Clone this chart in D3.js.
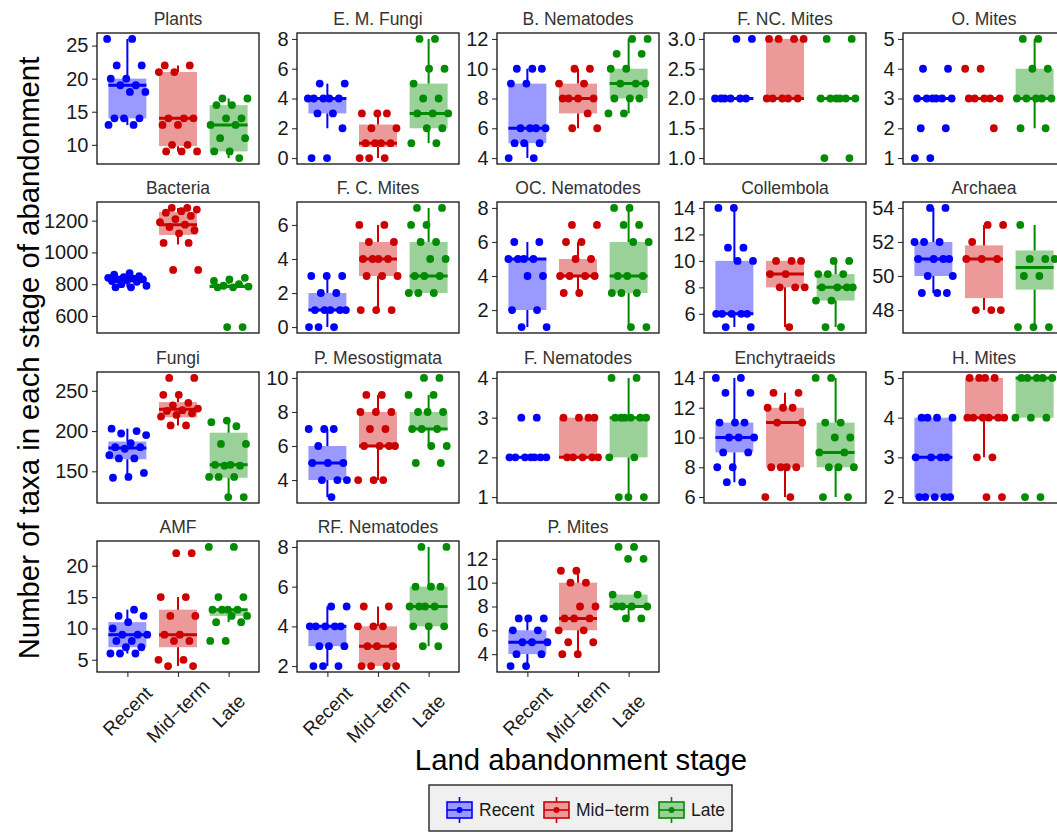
<!DOCTYPE html>
<html>
<head>
<meta charset="utf-8">
<script src="https://cdn.jsdelivr.net/npm/d3@7"></script>
<style>
  html, body { margin: 0; padding: 0; background: #fff; }
  svg { display: block; font-family: "Liberation Sans", Arial, sans-serif; }
</style>
</head>
<body>
<svg id="chart" width="1057" height="832"></svg>
<script>
// ---------------- DATA ----------------
const stages = ["Recent", "Mid\u2212term", "Late"];

const taxa = ["Plants", "E. M. Fungi", "B. Nematodes", "F. NC. Mites", "O. Mites",
  "Bacteria", "F. C. Mites", "OC. Nematodes", "Collembola", "Archaea",
  "Fungi", "P. Mesostigmata", "F. Nematodes", "Enchytraeids", "H. Mites",
  "AMF", "RF. Nematodes", "P. Mites"];

const yTicks = [
  [10, 15, 20, 25], [0, 2, 4, 6, 8], [4, 6, 8, 10, 12], [1, 1.5, 2, 2.5, 3], [1, 2, 3, 4, 5],
  [600, 800, 1000, 1200], [0, 2, 4, 6], [2, 4, 6, 8], [6, 8, 10, 12, 14], [48, 50, 52, 54],
  [150, 200, 250], [4, 6, 8, 10], [1, 2, 3, 4], [6, 8, 10, 12, 14], [2, 3, 4, 5],
  [5, 10, 15, 20], [2, 4, 6, 8], [4, 6, 8, 10, 12]
];

// box statistics per taxon and stage: [lower whisker, q1, median, q3, upper whisker]
const boxStats = [
  [[13, 14, 19, 20, 26], [9, 9.8, 14, 21, 22], [8, 9, 13, 16, 17]],
  [[2, 3, 4, 4, 5], [0, 0.75, 1, 2.25, 3], [1, 2, 3, 5, 8]],
  [[4, 5, 6, 9, 10], [6, 7, 8, 9, 10], [7, 8, 9, 10, 12]],
  [[2, 2, 2, 2, 2], [2, 2, 2, 3, 3], [2, 2, 2, 2, 2]],
  [[3, 3, 3, 3, 3], [3, 3, 3, 3, 3], [2, 3, 3, 4, 5]],
  [[780, 815, 830, 845, 870], [1050, 1110, 1175, 1255, 1280], [775, 778, 785, 800, 840]],
  [[0, 1, 1, 2, 3], [1, 3, 4, 5, 6], [2, 2, 3, 5, 7]],
  [[1, 2, 5, 5, 6], [3, 4, 4, 5, 6], [1, 3, 4, 6, 8]],
  [[5, 6, 6, 10, 14], [5, 8, 9, 10, 10], [5, 7, 8, 9, 10]],
  [[49, 50, 51, 52, 54], [48, 48.7, 51, 51.8, 53], [47, 49.2, 50.5, 51.5, 53]],
  [[142, 165, 179, 187, 203], [207, 217, 227, 236, 245], [118, 142, 158, 198, 213]],
  [[3, 4, 5, 6, 7], [4, 6, 6, 8, 9], [6, 7, 7, 8, 9]],
  [[2, 2, 2, 2, 2], [2, 2, 2, 3, 3], [1, 2, 3, 3, 4]],
  [[7, 9, 10, 11, 14], [6, 8, 11, 12, 13], [6, 8, 9, 11, 14]],
  [[2, 2, 3, 4, 4], [3, 4, 4, 5, 5], [4, 4, 5, 5, 5]],
  [[6, 7, 9, 11, 13], [4, 7, 9, 13, 15], [11, 12, 13, 13, 13]],
  [[2, 3, 4, 4, 5], [2, 2, 3, 4, 5], [3, 4, 5, 6, 8]],
  [[3, 4, 5, 6, 7], [4, 6, 7, 10, 11], [7, 8, 8, 9, 9]]
];

// observed values (points) per taxon and stage
const points = [
  [[26, 26, 22, 22, 20, 20, 19, 19, 18, 18, 14, 14, 14, 13, 13],
   [22, 22, 21, 21, 14, 14, 14, 13, 13, 10, 10, 9, 9, 9],
   [17, 17, 16, 16, 14, 14, 13, 13, 11, 11, 9, 9, 8]],
  [[5, 5, 4, 4, 4, 4, 4, 3, 3, 2, 0, 0],
   [3, 3, 3, 2, 2, 1, 1, 1, 1, 0, 0, 0],
   [8, 8, 6, 6, 5, 4, 4, 3, 3, 3, 2, 2, 1, 1]],
  [[10, 10, 10, 9, 9, 6, 6, 6, 6, 5, 5, 5, 4, 4],
   [10, 10, 9, 9, 8, 8, 8, 8, 7, 6, 6],
   [12, 12, 11, 11, 10, 10, 9, 9, 9, 8, 8, 8, 7, 7]],
  [[3, 3, 2, 2, 2, 2, 2, 2],
   [3, 3, 3, 3, 2, 2, 2, 2, 2],
   [3, 3, 2, 2, 2, 2, 2, 2, 1, 1]],
  [[4, 4, 3, 3, 3, 3, 3, 3, 2, 2, 1, 1],
   [4, 4, 3, 3, 3, 3, 3, 2],
   [5, 5, 4, 4, 3, 3, 3, 3, 3, 2, 2]],
  [[870, 860, 850, 845, 840, 835, 830, 830, 825, 820, 815, 800, 790, 780, 780],
   [1280, 1280, 1270, 1260, 1250, 1230, 1210, 1190, 1175, 1160, 1140, 1120, 1060, 1060, 890, 890],
   [840, 830, 820, 800, 790, 785, 780, 780, 530, 530]],
  [[3, 3, 3, 2, 2, 1, 1, 1, 1, 1, 0, 0, 0],
   [6, 6, 5, 5, 4, 4, 4, 4, 3, 3, 3, 1, 1, 1],
   [7, 7, 6, 6, 5, 5, 4, 4, 3, 3, 3, 2, 2, 2]],
  [[6, 6, 5, 5, 5, 5, 4, 4, 2, 2, 1, 1],
   [7, 7, 6, 6, 5, 5, 4, 4, 4, 4, 3, 3],
   [8, 8, 7, 7, 6, 6, 4, 4, 4, 3, 3, 3, 1, 1]],
  [[14, 14, 11, 11, 10, 10, 6, 6, 6, 6, 6, 5, 5],
   [10, 10, 10, 9, 9, 8, 8, 8, 5],
   [10, 10, 9, 9, 9, 8, 8, 8, 8, 7, 7, 5, 5]],
  [[54, 54, 52, 52, 52, 51, 51, 51, 51, 50, 50, 49, 49, 49],
   [53, 53, 52, 51, 51, 51, 48, 48, 48],
   [53, 51, 51, 51, 50, 50, 47, 47, 47]],
  [[203, 200, 197, 195, 185, 180, 180, 178, 170, 166, 166, 148, 143, 142],
   [266, 266, 245, 245, 235, 232, 228, 226, 225, 222, 220, 218, 207, 207],
   [213, 211, 206, 184, 184, 158, 158, 157, 157, 143, 143, 143, 118, 118]],
  [[7, 7, 7, 6, 5, 5, 5, 4, 4, 4, 3],
   [9, 9, 8, 8, 8, 7, 7, 6, 6, 6, 6, 4, 4, 4],
   [10, 10, 9, 9, 8, 8, 8, 7, 7, 7, 6, 6, 5, 5]],
  [[3, 3, 2, 2, 2, 2, 2, 2, 2],
   [3, 3, 3, 3, 2, 2, 2, 2, 2],
   [4, 4, 3, 3, 3, 3, 3, 3, 2, 2, 1, 1, 1]],
  [[14, 14, 13, 13, 11, 11, 11, 10, 10, 10, 9, 9, 8, 8, 7, 7],
   [13, 13, 12, 12, 12, 11, 11, 8, 8, 8, 8, 6, 6],
   [14, 14, 11, 11, 10, 10, 9, 9, 8, 8, 8, 6, 6]],
  [[4, 4, 4, 4, 3, 3, 3, 3, 2, 2, 2, 2, 2],
   [5, 5, 5, 5, 4, 4, 4, 4, 4, 4, 3, 3, 2, 2],
   [5, 5, 5, 5, 5, 4, 4, 4, 2, 2]],
  [[13, 12, 12, 11, 10, 9, 9, 9, 8, 8, 7, 7, 6, 6, 6],
   [22, 22, 15, 15, 12, 12, 9, 9, 8, 8, 5, 5, 4, 4],
   [23, 23, 15, 15, 13, 13, 13, 13, 12, 12, 11, 11, 8, 8]],
  [[5, 5, 4, 4, 4, 4, 4, 3, 3, 3, 2, 2, 2],
   [5, 5, 4, 4, 4, 3, 3, 3, 2, 2, 2, 2],
   [8, 8, 6, 6, 6, 5, 5, 5, 5, 4, 4, 4, 3, 3]],
  [[7, 7, 7, 6, 6, 5, 5, 5, 4, 4, 3, 3],
   [11, 11, 10, 10, 8, 8, 7, 7, 7, 6, 6, 5, 5, 4, 4],
   [13, 13, 12, 12, 9, 9, 8, 8, 8, 8, 7, 7]]
];

// ---------------- STYLE / LAYOUT ----------------
const colors = ["#0000FF", "#CD0000", "#008B00"];
const colLeft = [97, 297, 497, 704, 903];
const rowTop = [33, 202, 372, 541];
const pw = 162, ph = 131;
const textDark = "#1a1a1a";

const svg = d3.select("#chart");

// deterministic horizontal spread for overlapping points (layout only)
function spread(k, seed) {
  return (((k * 0.618034 + seed) % 1) * 2 - 1);
}

taxa.forEach((name, i) => {
  const r = Math.floor(i / 5), c = i % 5;
  const x0 = colLeft[c], y0 = rowTop[r];
  const g = svg.append("g").attr("transform", `translate(${x0},${y0})`);

  const allVals = points[i].flat().concat(boxStats[i].flat());
  const [mn, mx] = d3.extent(allVals);
  const pad = (mx - mn) * 0.05;
  const y = d3.scaleLinear().domain([mn - pad, mx + pad]).range([ph, 0]);
  const x = d3.scalePoint().domain(stages).range([0, pw]).padding(0.6);
  const step = x.step();
  const bw = step * 0.75;

  // y axis
  const decimals = yTicks[i].some(t => !Number.isInteger(t));
  const yAxis = d3.axisLeft(y).tickValues(yTicks[i]).tickSize(5).tickPadding(3.5)
    .tickFormat(decimals ? d3.format(".1f") : d3.format("d"));
  const ya = g.append("g").call(yAxis);
  ya.select(".domain").remove();
  ya.selectAll(".tick line").attr("stroke", "#333").attr("stroke-width", 1.1);
  ya.selectAll(".tick text").attr("fill", textDark).style("font-size", "20px")
    .style("font-family", '"Liberation Sans", Arial, sans-serif');

  // x axis for bottom row
  if (r === 3) {
    const xa = g.append("g").attr("transform", `translate(0,${ph})`)
      .call(d3.axisBottom(x).tickSize(5).tickFormat(""));
    xa.select(".domain").remove();
    xa.selectAll(".tick line").attr("stroke", "#333").attr("stroke-width", 1.1);
    stages.forEach(s => {
      g.append("text")
        .attr("transform", `translate(${x(s)},${ph + 39}) rotate(-45)`)
        .attr("text-anchor", "middle")
        .attr("dy", "0.35em")
        .attr("fill", textDark)
        .style("font-size", "19px")
        .text(s);
    });
  }

  // boxes
  stages.forEach((s, gi) => {
    const [lo, q1, med, q3, hi] = boxStats[i][gi];
    const cx = x(s);
    const col = colors[gi];
    g.append("rect")
      .attr("x", cx - bw / 2).attr("width", bw)
      .attr("y", y(q3)).attr("height", Math.max(0, y(q1) - y(q3)))
      .attr("fill", col).attr("fill-opacity", 0.4);
    g.append("line").attr("x1", cx).attr("x2", cx).attr("y1", y(q3)).attr("y2", y(hi))
      .attr("stroke", col).attr("stroke-width", 2);
    g.append("line").attr("x1", cx).attr("x2", cx).attr("y1", y(q1)).attr("y2", y(lo))
      .attr("stroke", col).attr("stroke-width", 2);
    g.append("line").attr("x1", cx - bw / 2).attr("x2", cx + bw / 2)
      .attr("y1", y(med)).attr("y2", y(med))
      .attr("stroke", col).attr("stroke-width", 3);
  });

  // points
  stages.forEach((s, gi) => {
    const cx = x(s);
    const seed = (i * 0.311 + gi * 0.173) % 1;
    g.selectAll(null).data(points[i][gi]).enter().append("circle")
      .attr("cx", (v, k) => cx + spread(k, seed) * 0.4 * step)
      .attr("cy", v => y(v))
      .attr("r", 3.9)
      .attr("fill", colors[gi]);
  });

  // panel border
  g.append("rect").attr("x", 0).attr("y", 0).attr("width", pw).attr("height", ph)
    .attr("fill", "none").attr("stroke", "#111").attr("stroke-width", 1.3);

  // title
  g.append("text").attr("x", pw / 2).attr("y", -8)
    .attr("text-anchor", "middle").attr("fill", "#333")
    .style("font-size", "17.5px").text(name);
});

// axis titles
svg.append("text")
  .attr("transform", "translate(39,358) rotate(-90)")
  .attr("text-anchor", "middle").attr("fill", "#000")
  .style("font-size", "29.3px")
  .text("Number of taxa in each stage of abandonment");

svg.append("text")
  .attr("x", 581).attr("y", 770)
  .attr("text-anchor", "middle").attr("fill", "#000")
  .style("font-size", "29.3px")
  .text("Land abandonment stage");

// legend
const lg = svg.append("g");
lg.append("rect").attr("x", 429).attr("y", 785).attr("width", 303).attr("height", 46)
  .attr("fill", "#F0F0F0").attr("stroke", "#333").attr("stroke-width", 1.5);
const keyX = [446, 543, 658];
stages.forEach((s, gi) => {
  const kx = keyX[gi], col = colors[gi];
  const k = lg.append("g").attr("transform", `translate(${kx},797)`);
  k.append("line").attr("x1", 13.5).attr("x2", 13.5).attr("y1", 0).attr("y2", 26)
    .attr("stroke", col).attr("stroke-width", 1.6);
  k.append("rect").attr("x", 1).attr("y", 5).attr("width", 25).attr("height", 16)
    .attr("fill", "#fff");
  k.append("rect").attr("x", 1).attr("y", 5).attr("width", 25).attr("height", 16)
    .attr("fill", col).attr("fill-opacity", 0.4).attr("stroke", col).attr("stroke-width", 1.6);
  k.append("line").attr("x1", 1).attr("x2", 26).attr("y1", 13).attr("y2", 13)
    .attr("stroke", col).attr("stroke-width", 1.6);
  k.append("circle").attr("cx", 13.5).attr("cy", 13).attr("r", 3).attr("fill", col);
  lg.append("text").attr("x", kx + 33).attr("y", 816)
    .attr("fill", textDark).style("font-size", "17.5px").text(s);
});
</script>
</body>
</html>
